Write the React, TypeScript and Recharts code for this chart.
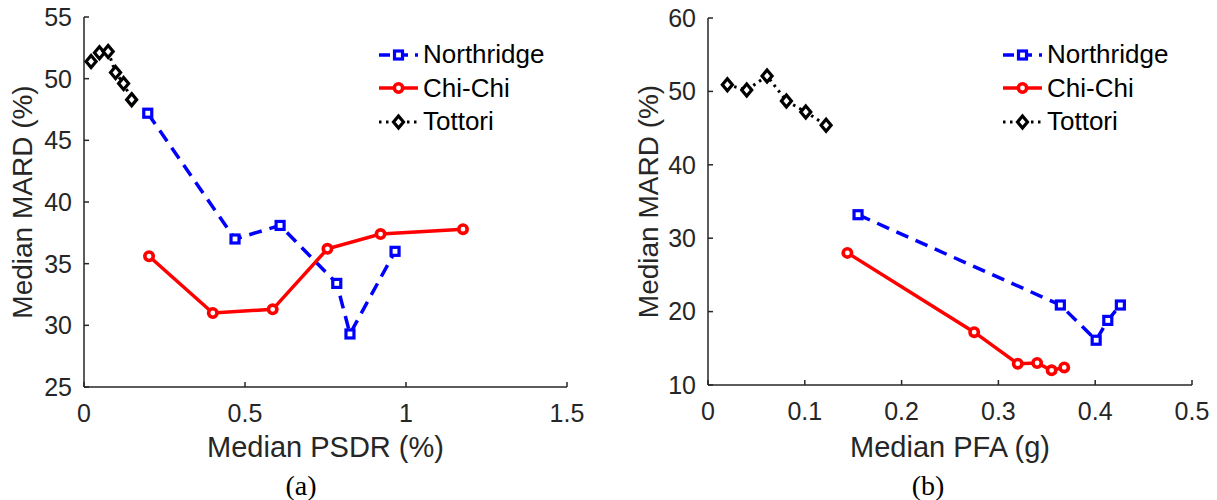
import { ScatterChart, Scatter, XAxis, YAxis, Legend } from "recharts";

// (a) median PSDR (%) vs median MARD (%)
const psdrNorthridge = [0.198, 0.469, 0.609, 0.785, 0.826, 0.966];
const mardNorthridgeA = [47.2, 37.0, 38.1, 33.4, 29.3, 36.0];
const psdrChiChi = [0.202, 0.4, 0.586, 0.756, 0.921, 1.177];
const mardChiChiA = [35.6, 31.0, 31.3, 36.2, 37.4, 37.8];
const psdrTottori = [0.022, 0.048, 0.075, 0.098, 0.123, 0.148];
const mardTottoriA = [51.4, 52.1, 52.2, 50.5, 49.6, 48.3];

// (b) median PFA (g) vs median MARD (%)
const pfaNorthridge = [0.155, 0.364, 0.401, 0.413, 0.426];
const mardNorthridgeB = [33.2, 20.9, 16.1, 18.8, 20.9];
const pfaChiChi = [0.144, 0.275, 0.32, 0.34, 0.355, 0.368];
const mardChiChiB = [28.0, 17.2, 12.9, 13.0, 12.0, 12.4];
const pfaTottori = [0.02, 0.04, 0.061, 0.081, 0.101, 0.122];
const mardTottoriB = [50.9, 50.2, 52.1, 48.7, 47.2, 45.4];

const seriesNames = ["Northridge", "Chi-Chi", "Tottori"];
const ticksPsdr = [0, 0.5, 1, 1.5];
const ticksPfa = [0, 0.1, 0.2, 0.3, 0.4, 0.5];
const ticksMardA = [25, 30, 35, 40, 45, 50, 55];
const ticksMardB = [10, 20, 30, 40, 50, 60];

const AX = "#262626";
const SANS = "'Liberation Sans', Arial, Helvetica, sans-serif";
const SERIF = "'Liberation Serif', 'Times New Roman', serif";

const rows = (xs: number[], ys: number[]) => xs.map((x, i) => ({ x, y: ys[i] }));

const SquareDot = ({ cx, cy }: any) => (
  <rect x={cx - 4} y={cy - 4} width={8} height={8} fill="#fff" stroke="#0000ff" strokeWidth={3.2} />
);
const CircleDot = ({ cx, cy }: any) => (
  <circle cx={cx} cy={cy} r={4.2} fill="#fff" stroke="#ff0000" strokeWidth={3.6} />
);
const DiamondDot = ({ cx, cy }: any) => (
  <path
    d={`M${cx},${cy - 6}L${cx + 5},${cy}L${cx},${cy + 6}L${cx - 5},${cy}Z`}
    fill="#fff"
    stroke="#000"
    strokeWidth={3.2}
  />
);

const SERIES: Record<string, { color: string; dash?: string; width: number; Dot: any }> = {
  Northridge: { color: "#0000ff", dash: "11 7", width: 3.5, Dot: SquareDot },
  "Chi-Chi": { color: "#ff0000", width: 3.5, Dot: CircleDot },
  Tottori: { color: "#000000", dash: "2.5 4.5", width: 3, Dot: DiamondDot },
};

function LegendBox({ payload }: any) {
  const present = (payload || []).map((p: any) => p.value);
  const items = seriesNames.filter((n) => present.includes(n));
  return (
    <div>
      {items.map((name: string) => {
        const s = SERIES[name];
        return (
          <div key={name} style={{ display: "flex", alignItems: "center", height: 33.5 }}>
            <svg width={44} height={20}>
              <line x1={1} x2={40} y1={10} y2={10} stroke={s.color} strokeWidth={s.width} strokeDasharray={s.dash} />
              <s.Dot cx={20.5} cy={10} />
            </svg>
            <span style={{ fontFamily: SANS, fontSize: 26, color: "#000", marginLeft: 1 }}>{name}</span>
          </div>
        );
      })}
    </div>
  );
}

type PanelProps = {
  left: number;
  width: number;
  margin: { top: number; right: number; left: number; bottom: number };
  yWidth: number;
  xHeight: number;
  xDomain: number[];
  xTicks: number[];
  yDomain: number[];
  yTicks: number[];
  xTitle: string;
  yTitleX: number;
  legendLeft: number;
  north: { x: number; y: number }[];
  chichi: { x: number; y: number }[];
  tottori: { x: number; y: number }[];
};

function Panel(p: PanelProps) {
  return (
    <div style={{ position: "absolute", left: p.left, top: 0 }}>
      <ScatterChart width={p.width} height={500} margin={p.margin}>
        <XAxis
          type="number"
          dataKey="x"
          domain={p.xDomain}
          ticks={p.xTicks}
          interval={0}
          allowDataOverflow
          height={p.xHeight}
          tickSize={-5}
          tickMargin={22}
          axisLine={{ stroke: AX, strokeWidth: 1.5 }}
          tickLine={{ stroke: AX, strokeWidth: 1.5 }}
          tick={{ fill: AX, fontSize: 25, fontFamily: SANS }}
          label={({ viewBox }: any) => (
            <text
              x={viewBox.x + viewBox.width / 2}
              y={447}
              textAnchor="middle"
              dominantBaseline="central"
              fill={AX}
              fontSize={29}
              fontFamily={SANS}
            >
              {p.xTitle}
            </text>
          )}
        />
        <YAxis
          type="number"
          dataKey="y"
          domain={p.yDomain}
          ticks={p.yTicks}
          interval={0}
          allowDataOverflow
          width={p.yWidth}
          tickSize={-5}
          tickMargin={17}
          axisLine={{ stroke: AX, strokeWidth: 1.5 }}
          tickLine={{ stroke: AX, strokeWidth: 1.5 }}
          tick={{ fill: AX, fontSize: 25, fontFamily: SANS }}
          label={({ viewBox }: any) => {
            const cy = viewBox.y + viewBox.height / 2;
            return (
              <text
                x={p.yTitleX}
                y={cy}
                textAnchor="middle"
                dominantBaseline="central"
                transform={`rotate(-90 ${p.yTitleX} ${cy})`}
                fill={AX}
                fontSize={28}
                fontFamily={SANS}
              >
                Median MARD (%)
              </text>
            );
          }}
        />
        <Legend
          layout="horizontal"
          align="center"
          verticalAlign="middle"
          content={<LegendBox />}
          wrapperStyle={{ position: "absolute", left: p.legendLeft, top: 38, width: 200 }}
        />
        <Scatter
          name="Northridge"
          data={p.north}
          fill="#0000ff"
          line={{ stroke: "#0000ff", strokeWidth: 3.5, strokeDasharray: "13 8" }}
          lineType="joint"
          shape={SquareDot}
          isAnimationActive={false}
        />
        <Scatter
          name="Chi-Chi"
          data={p.chichi}
          fill="#ff0000"
          line={{ stroke: "#ff0000", strokeWidth: 3.5 }}
          lineType="joint"
          shape={CircleDot}
          isAnimationActive={false}
        />
        <Scatter
          name="Tottori"
          data={p.tottori}
          fill="#000000"
          line={{ stroke: "#000000", strokeWidth: 3, strokeDasharray: "2.5 4.5" }}
          lineType="joint"
          shape={DiamondDot}
          isAnimationActive={false}
        />
      </ScatterChart>
    </div>
  );
}

export default function App() {
  return (
    <div style={{ position: "absolute", left: 0, top: 0, width: 1217, height: 500, background: "#fff" }}>
      <Panel
        left={0}
        width={610}
        margin={{ top: 17, right: 43, left: 0, bottom: 0 }}
        yWidth={84}
        xHeight={113}
        xDomain={[0, 1.5]}
        xTicks={ticksPsdr}
        yDomain={[25, 55]}
        yTicks={ticksMardA}
        xTitle="Median PSDR (%)"
        yTitleX={22}
        legendLeft={378}
        north={rows(psdrNorthridge, mardNorthridgeA)}
        chichi={rows(psdrChiChi, mardChiChiA)}
        tottori={rows(psdrTottori, mardTottoriA)}
      />
      <Panel
        left={610}
        width={607}
        margin={{ top: 18, right: 25, left: 0, bottom: 0 }}
        yWidth={98}
        xHeight={115}
        xDomain={[0, 0.5]}
        xTicks={ticksPfa}
        yDomain={[10, 60]}
        yTicks={ticksMardB}
        xTitle="Median PFA (g)"
        yTitleX={38}
        legendLeft={392}
        north={rows(pfaNorthridge, mardNorthridgeB)}
        chichi={rows(pfaChiChi, mardChiChiB)}
        tottori={rows(pfaTottori, mardTottoriB)}
      />
      <div style={{ position: "absolute", left: 301, top: 486, transform: "translate(-50%, -50%)", fontFamily: SERIF, fontSize: 28, color: "#000" }}>
        (a)
      </div>
      <div style={{ position: "absolute", left: 928, top: 486, transform: "translate(-50%, -50%)", fontFamily: SERIF, fontSize: 28, color: "#000" }}>
        (b)
      </div>
    </div>
  );
}
